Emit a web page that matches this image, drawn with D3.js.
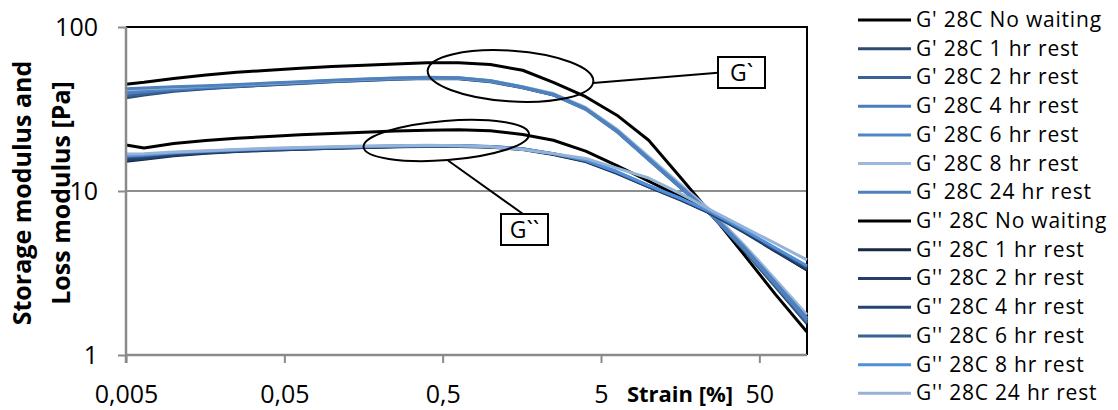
<!DOCTYPE html>
<html>
<head>
<meta charset="utf-8">
<script src="https://cdn.jsdelivr.net/npm/d3@7"></script>
<style>
  html, body { margin: 0; padding: 0; background: #fff; }
  svg { display: block; }
  text { font-family: "Open Sans", "Liberation Sans", sans-serif; fill: #000; }
</style>
</head>
<body>
<svg id="chart" width="1118" height="410"></svg>
<script>
// Strain amplitude sweep at 28C: storage (G') and loss (G'') modulus after different rest times
const strain = [0.005, 0.0065, 0.01, 0.016, 0.025, 0.04, 0.063, 0.1, 0.16, 0.25, 0.4, 0.63, 1, 1.6, 2.5, 4, 6.3, 10, 16, 25, 40, 63, 100];

const gpNoWait = [44.8, 46, 48.5, 51, 53, 54.5, 56, 57.5, 58.5, 59.5, 60.5, 60.5, 59, 54.5, 46, 37.6, 29, 20.4, 12, 7.2, 4.1, 2.35, 1.38];
const gp1h  = [37.0, 38.5, 40.5, 42, 43.2, 44.3, 45.3, 46.3, 47.2, 48, 48.5, 48.3, 46.4, 42.6, 38.6, 31.8, 23.3, 15.7, 10.5, 7.1, 4.35, 2.62, 1.55];
const gp2h  = [38.0, 39.2, 41, 42.3, 43.4, 44.5, 45.5, 46.5, 47.4, 48.2, 48.7, 48.5, 46.6, 42.7, 38.5, 31.6, 23.1, 15.6, 10.4, 7.1, 4.4, 2.66, 1.58];
const gp4h  = [39.5, 40.3, 41.6, 42.7, 43.7, 44.7, 45.7, 46.7, 47.6, 48.4, 48.9, 48.7, 46.8, 42.8, 38.6, 31.5, 23.0, 15.5, 10.4, 7.15, 4.45, 2.7, 1.62];
const gp6h  = [40.5, 41.2, 42.2, 43.1, 44, 45, 46, 47, 47.9, 48.6, 49, 48.8, 46.9, 42.9, 38.7, 31.6, 23.1, 15.6, 10.5, 7.2, 4.5, 2.74, 1.66];
const gp8h  = [41.5, 42, 42.8, 43.6, 44.4, 45.3, 46.2, 47.2, 48.1, 48.8, 49.2, 49, 47.2, 43.3, 39.3, 32.3, 23.8, 16.2, 10.9, 7.5, 4.7, 2.9, 1.76];
const gp24h = [42.0, 42.5, 43.2, 43.9, 44.6, 45.5, 46.4, 47.3, 48.2, 48.9, 49.3, 49.1, 47.1, 43.1, 38.9, 31.9, 23.4, 15.8, 10.6, 7.25, 4.55, 2.78, 1.68];

const gppNoWait = [19.1, 18.3, 19.5, 20.3, 21, 21.5, 22, 22.4, 22.8, 23.2, 23.5, 23.6, 23.3, 22.1, 20.4, 17.5, 14.3, 11.5, 9.2, 7.4, 5.7, 4.35, 3.3];
const gpp1h  = [15.2, 15.6, 16.4, 17, 17.4, 17.7, 18, 18.2, 18.4, 18.6, 18.7, 18.7, 18.5, 17.9, 16.7, 15.1, 12.8, 10.6, 8.8, 7.25, 5.6, 4.3, 3.3];
const gpp2h  = [15.5, 15.8, 16.6, 17.1, 17.5, 17.8, 18, 18.2, 18.4, 18.6, 18.8, 18.8, 18.6, 18.0, 16.8, 15.2, 12.9, 10.6, 8.85, 7.25, 5.65, 4.35, 3.35];
const gpp4h  = [15.8, 16.1, 16.8, 17.2, 17.6, 17.9, 18.1, 18.3, 18.5, 18.7, 18.8, 18.8, 18.6, 18.0, 16.8, 15.3, 13.0, 10.7, 8.9, 7.3, 5.7, 4.4, 3.4];
const gpp6h  = [16.1, 16.4, 17, 17.4, 17.7, 18, 18.2, 18.4, 18.6, 18.8, 18.9, 18.9, 18.7, 18.1, 16.9, 15.4, 13.1, 10.8, 8.95, 7.35, 5.75, 4.45, 3.45];
const gpp8h  = [16.4, 16.6, 17.1, 17.5, 17.8, 18.1, 18.3, 18.5, 18.7, 18.8, 18.9, 18.9, 18.7, 18.1, 16.9, 15.4, 13.1, 10.8, 9.0, 7.4, 5.8, 4.5, 3.5];
const gpp24h = [16.8, 16.9, 17.3, 17.6, 17.9, 18.2, 18.4, 18.6, 18.8, 18.9, 19, 18.9, 18.6, 17.9, 16.9, 15.8, 13.8, 12.0, 9.6, 7.6, 6.0, 4.8, 3.8];

const seriesNames = [
  "G' 28C No waiting", "G' 28C 1 hr rest", "G' 28C 2 hr rest", "G' 28C 4 hr rest",
  "G' 28C 6 hr rest", "G' 28C 8 hr rest", "G' 28C 24 hr rest",
  "G'' 28C No waiting", "G'' 28C 1 hr rest", "G'' 28C 2 hr rest", "G'' 28C 4 hr rest",
  "G'' 28C 6 hr rest", "G'' 28C 8 hr rest", "G'' 28C 24 hr rest"
];
const seriesValues = [gpNoWait, gp1h, gp2h, gp4h, gp6h, gp8h, gp24h,
                      gppNoWait, gpp1h, gpp2h, gpp4h, gpp6h, gpp8h, gpp24h];
const seriesColors = ["#000000", "#2e4b73", "#3a6299", "#4a7ebb", "#4f86c6", "#9bb7d9", "#4f81bd",
                      "#000000", "#172a45", "#23406a", "#254570", "#3a6296", "#4f8fdc", "#95b3d7"];

const xTicks = [0.005, 0.05, 0.5, 5, 50];
const xTickLabels = ["0,005", "0,05", "0,5", "5", "50"];
const yTicks = [1, 10, 100];
const yTickLabels = ["1", "10", "100"];

const svg = d3.select("#chart");
const plot = { left: 126, top: 27, right: 807, bottom: 355 };

const x = d3.scaleLog().domain([0.005, 100]).range([plot.left, plot.right]);
const y = d3.scaleLog().domain([1, 100]).range([plot.bottom, plot.top]);

// horizontal gridlines at the decades
svg.append("g").selectAll("line")
  .data([10, 100]).join("line")
  .attr("x1", plot.left).attr("x2", plot.right)
  .attr("y1", d => y(d)).attr("y2", d => y(d))
  .attr("stroke", "#8e8e8e").attr("stroke-width", 2);

// plot frame (top and right)
svg.append("path")
  .attr("d", `M${plot.left},${plot.top}H${plot.right}V${plot.bottom}`)
  .attr("fill", "none").attr("stroke", "#000").attr("stroke-width", 2);

// series lines
const line = d3.line()
  .x((d, i) => x(strain[i]))
  .y(d => y(d));

svg.append("g").selectAll("path")
  .data(seriesValues).join("path")
  .attr("d", d => line(d))
  .attr("fill", "none")
  .attr("stroke", (d, i) => seriesColors[i])
  .attr("stroke-width", 3)
  .attr("stroke-linejoin", "round");

// axes
const xAxis = svg.append("g")
  .attr("transform", `translate(0,${plot.bottom})`)
  .call(d3.axisBottom(x).tickValues(xTicks)
    .tickFormat((d, i) => xTickLabels[i]).tickSize(8).tickPadding(22).tickSizeOuter(0));
const yAxis = svg.append("g")
  .attr("transform", `translate(${plot.left},0)`)
  .call(d3.axisLeft(y).tickValues(yTicks)
    .tickFormat((d, i) => yTickLabels[i]).tickSize(8).tickPadding(20).tickSizeOuter(0));

[xAxis, yAxis].forEach(g => {
  g.select(".domain").attr("stroke", "#8a8a8a").attr("stroke-width", 2.5);
  g.selectAll(".tick line").attr("stroke", "#8a8a8a").attr("stroke-width", 2);
  g.selectAll(".tick text").attr("font-family", "Open Sans").attr("font-size", 25).attr("fill", "#000");
});
// extend the x axis line to meet the y axis
xAxis.select(".domain").attr("d", `M${plot.left - 1},0H${plot.right}`);
yAxis.select(".domain").attr("d", `M0,${plot.top}V${plot.bottom + 8}`);

// axis titles
const yTitle = svg.append("g")
  .attr("font-family", "Open Sans").attr("font-weight", "bold").attr("font-size", 25)
  .attr("text-anchor", "middle");
yTitle.append("text").attr("transform", "translate(31,193) rotate(-90)").text("Storage modulus and");
yTitle.append("text").attr("transform", "translate(70,193) rotate(-90)").text("Loss modulus [Pa]");

svg.append("text")
  .attr("x", 680).attr("y", 402)
  .attr("text-anchor", "middle")
  .attr("font-family", "Open Sans").attr("font-weight", "bold").attr("font-size", 22)
  .text("Strain [%]");

// annotations: ellipses around the G' and G'' plateaus with callout boxes
const notes = [
  { cx: 510.5, cy: 76, rx: 83, ry: 25.4, rot: 3.8, lx1: 593, ly1: 83, lx2: 718, ly2: 72.7,
    bx: 718, by: 57, bw: 47, bh: 31, label: "G`" },
  { cx: 446.3, cy: 140.5, rx: 83, ry: 19.6, rot: -4.5, lx1: 448, ly1: 160.5, lx2: 523, ly2: 214,
    bx: 501, by: 214, bw: 47, bh: 31, label: "G``" }
];
const ann = svg.append("g");
notes.forEach(n => {
  ann.append("ellipse")
    .attr("cx", n.cx).attr("cy", n.cy).attr("rx", n.rx).attr("ry", n.ry)
    .attr("transform", `rotate(${n.rot},${n.cx},${n.cy})`)
    .attr("fill", "none").attr("stroke", "#000").attr("stroke-width", 2);
  ann.append("line")
    .attr("x1", n.lx1).attr("y1", n.ly1).attr("x2", n.lx2).attr("y2", n.ly2)
    .attr("stroke", "#000").attr("stroke-width", 2);
  ann.append("rect")
    .attr("x", n.bx).attr("y", n.by).attr("width", n.bw).attr("height", n.bh)
    .attr("fill", "#fff").attr("stroke", "#000").attr("stroke-width", 2);
  ann.append("text")
    .attr("x", n.bx + n.bw / 2).attr("y", n.by + n.bh / 2 + 8.5)
    .attr("text-anchor", "middle")
    .attr("font-family", "Open Sans").attr("font-size", 23)
    .text(n.label);
});

// legend
const legend = svg.append("g");
const rowH = 28.72;
seriesNames.forEach((name, i) => {
  const ly = 20 + i * rowH;
  legend.append("line")
    .attr("x1", 858).attr("x2", 911).attr("y1", ly).attr("y2", ly)
    .attr("stroke", seriesColors[i]).attr("stroke-width", 3);
  legend.append("text")
    .attr("x", 916).attr("y", ly + 7)
    .attr("font-family", "Open Sans").attr("font-size", 21)
    .attr("letter-spacing", 0.8)
    .text(name);
});
</script>
</body>
</html>
